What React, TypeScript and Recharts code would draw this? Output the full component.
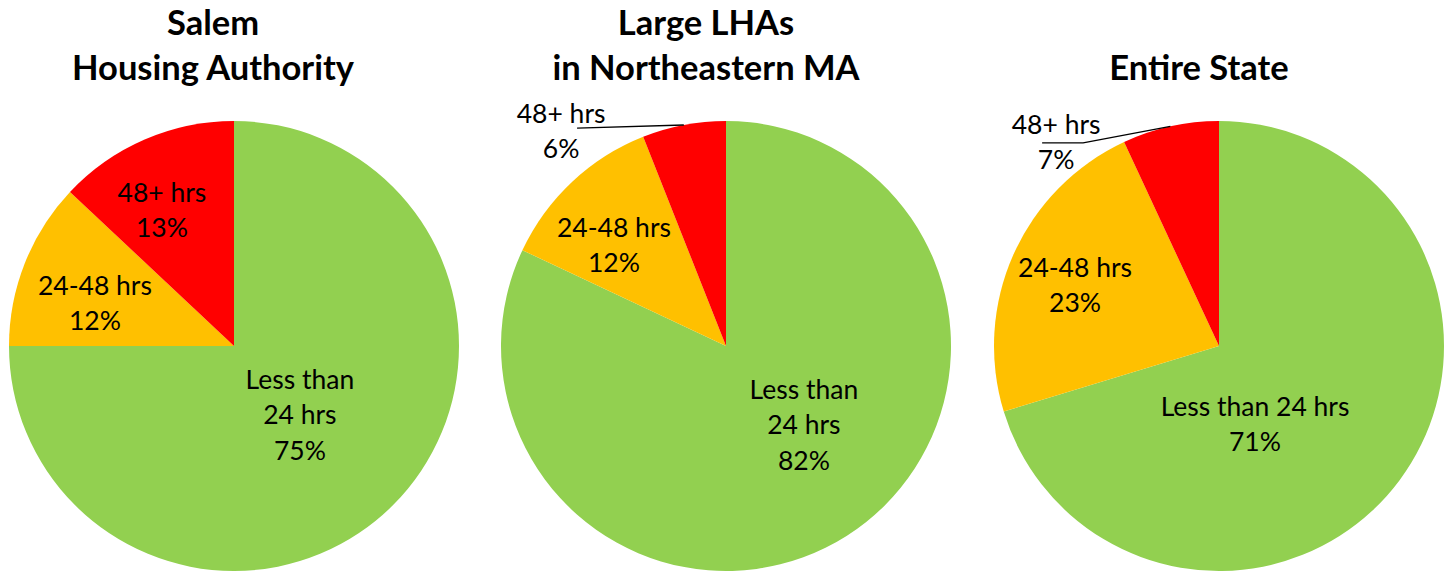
import React from 'react';
import { PieChart, Pie, Cell } from 'recharts';

const categories = ['Less than 24 hrs', '24-48 hrs', '48+ hrs'];
const sliceColors = ['#92D050', '#FFC000', '#FF0000'];

const salemValues = [75, 12, 13];
const northeastValues = [82, 12, 6];
const stateValues = [71, 23, 7];

const salemTitle = ['Salem', 'Housing Authority'];
const northeastTitle = ['Large LHAs', 'in Northeastern MA'];
const stateTitle = ['Entire State'];

const RAD = Math.PI / 180;
const R = 225;
const FONT = 'Lato, "Open Sans", sans-serif';
const LABEL_SIZE = 26.5;
const LINE_H = 35.5;

type LabelSpec = { r: number; dA: number; leader?: [number, number][] };

const salemSpecs: LabelSpec[] = [
  { r: 0.424, dA: -1.3 },
  { r: 0.647, dA: 4.4 },
  { r: 0.684, dA: 4.5 },
];
const northeastSpecs: LabelSpec[] = [
  { r: 0.493, dA: 12.2 },
  { r: 0.67, dA: 4.8 },
  { r: 1.204, dA: 26.7, leader: [[16, -3]] },
];
const stateSpecs: LabelSpec[] = [
  { r: 0.382, dA: -28.7 },
  { r: 0.695, dA: 1.1 },
  { r: 1.161, dA: 26.1, leader: [[-14, 1], [27, 1]] },
];

const toRows = (values: number[]) => categories.map((name, i) => ({ name, value: values[i] }));

const makeLabel = (specs: LabelSpec[], wrapFirst: boolean) => (props: any) => {
  const { cx, cy, midAngle, outerRadius, index, value } = props;
  const s = specs[index];
  const a = (midAngle + s.dA) * RAD;
  const x = cx + s.r * outerRadius * Math.cos(a);
  const y = cy - s.r * outerRadius * Math.sin(a);
  const name = categories[index];
  const lines = (wrapFirst && index === 0 ? ['Less than', '24 hrs'] : [name]).concat(`${value}%`);
  const y0 = y - ((lines.length - 1) * LINE_H) / 2 + 9.5;
  let leader = null;
  if (s.leader) {
    const ex = cx + outerRadius * Math.cos(midAngle * RAD);
    const ey = cy - outerRadius * Math.sin(midAngle * RAD);
    const pts = s.leader.map(([dx, dy]) => `${x + dx},${y + dy}`).concat(`${ex},${ey}`);
    leader = <polyline points={pts.join(' ')} fill="none" stroke="#000" strokeWidth={1.3} />;
  }
  return (
    <g key={`lbl-${index}`}>
      {leader}
      <text textAnchor="middle" fontFamily={FONT} fontSize={LABEL_SIZE} fill="#000">
        {lines.map((l, i) => (
          <tspan key={i} x={x} y={y0 + i * LINE_H}>{l}</tspan>
        ))}
      </text>
    </g>
  );
};

const pies = [
  { values: salemValues, specs: salemSpecs, wrap: true, cx: 234, title: salemTitle, titleX: 213 },
  { values: northeastValues, specs: northeastSpecs, wrap: true, cx: 726, title: northeastTitle, titleX: 706 },
  { values: stateValues, specs: stateSpecs, wrap: false, cx: 1219, title: stateTitle, titleX: 1199 },
];

export default function App() {
  return (
    <div style={{ position: 'absolute', left: 0, top: 0, width: 1452, height: 572, background: '#fff' }}>
      <PieChart width={1452} height={572} margin={{ top: 0, right: 0, bottom: 0, left: 0 }}>
        {pies.map((p, k) => (
          <Pie
            key={k}
            data={toRows(p.values)}
            dataKey="value"
            nameKey="name"
            cx={p.cx}
            cy={346}
            innerRadius={0}
            outerRadius={R}
            startAngle={90}
            endAngle={-270}
            stroke="none"
            label={makeLabel(p.specs, p.wrap)}
            labelLine={false}
            isAnimationActive={false}
          >
            {categories.map((c, i) => (
              <Cell key={c} fill={sliceColors[i]} />
            ))}
          </Pie>
        ))}
      </PieChart>
      <svg width={1452} height={572} style={{ position: 'absolute', left: 0, top: 0, pointerEvents: 'none' }}>
        {pies.map((p, k) => {
          const baselines = p.title.length === 2 ? [35, 80] : [80];
          return p.title.map((t, i) => (
            <text
              key={`${k}-${i}`}
              x={p.titleX}
              y={baselines[i]}
              textAnchor="middle"
              fontFamily={FONT}
              fontWeight="bold"
              fontSize={34.5}
              fill="#000"
            >
              {t}
            </text>
          ));
        })}
      </svg>
    </div>
  );
}
